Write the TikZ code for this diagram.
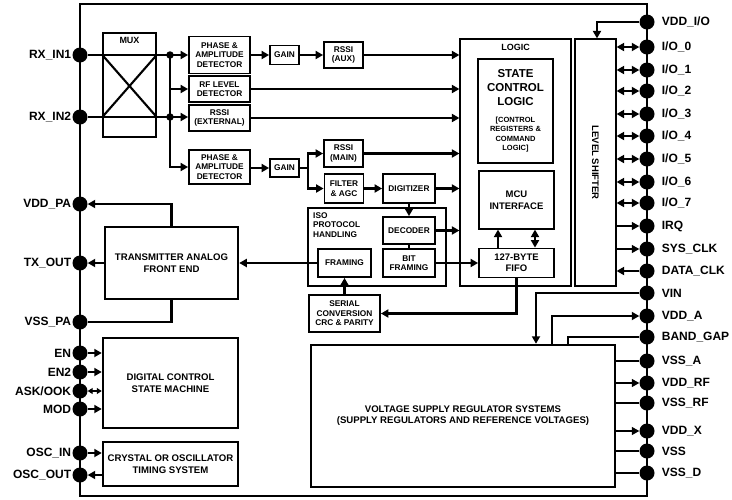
\documentclass[tikz,border=0pt]{standalone}
\usepackage{fontspec}
\setmainfont{Liberation Sans}
\usetikzlibrary{arrows.meta}

\begin{document}
\begin{tikzpicture}[x=1pt,y=-1pt,>={Triangle[length=7.5pt,width=8pt]},
  wire/.style={line width=2.1pt},
  thinwire/.style={line width=1.4pt},
  blk/.style={draw,line width=1.8pt,align=center,inner sep=1pt,font=\bfseries\fontsize{8.3}{9.5}\selectfont},
  bigblk/.style={blk,line width=2.5pt,font=\bfseries\fontsize{9.6}{12.5}\selectfont},
  thinblk/.style={blk,line width=1.2pt},
  pindot/.style={circle,fill,inner sep=0pt,minimum size=15pt},
  jdot/.style={circle,fill,inner sep=0pt,minimum size=7.5pt},
  lpin/.style={anchor=east,inner sep=1pt,font=\bfseries\fontsize{12}{12}\selectfont},
  rpin/.style={anchor=west,inner sep=0pt,xshift=7pt,font=\bfseries\fontsize{12}{12}\selectfont}]

\useasboundingbox (0,0) rectangle (732,499);

% ---- Chip outline ----
\draw[line width=2.8pt] (80,4) rectangle (647,496);

% ---- Left pins ----
\foreach \nm/\yy/\txt in {rxin1/55/RX\_IN1, rxin2/117/RX\_IN2, vddpa/204/VDD\_PA,
    txout/263/TX\_OUT, vsspa/322/VSS\_PA, en/353/EN, entwo/372/EN2,
    askook/391/{ASK/OOK}, mod/409/MOD, oscin/453/OSC\_IN, oscout/475/OSC\_OUT} {
  \node[pindot] (\nm) at (80,\yy) {};
  \node[lpin] at (\nm.west) {\txt};
}

% ---- Right pins ----
\foreach \nm/\yy/\txt in {vddio/22/{VDD\_I/O}, io0/47/{I/O\_0}, io1/70/{I/O\_1},
    io2/91/{I/O\_2}, io3/114/{I/O\_3}, io4/136/{I/O\_4}, io5/159/{I/O\_5},
    io6/182/{I/O\_6}, io7/203/{I/O\_7}, irq/226/IRQ, sysclk/249/SYS\_CLK,
    dataclk/271/DATA\_CLK, vin/293/VIN, vdda/316/VDD\_A, bandgap/337/BAND\_GAP,
    vssa/361/VSS\_A, vddrf/383/VDD\_RF, vssrf/403/VSS\_RF, vddx/431/VDD\_X,
    vss/451/VSS, vssd/473/VSS\_D} {
  \node[pindot] (\nm) at (647,\yy) {};
  \node[rpin] at (\nm.east) {\txt};
}

% ---- Receive path ----
\node[blk,line width=1.3pt,minimum width=53pt,minimum height=104pt] (mux) at (129.5,85) {};
\node[below,yshift=-1pt,font=\bfseries\fontsize{9}{9}\selectfont] at (mux.north) {MUX};

\node[blk,minimum width=61pt,minimum height=37pt] (padone) at (219.5,55) {PHASE \&\\AMPLITUDE\\DETECTOR};
\node[blk,minimum width=61pt,minimum height=26pt] (rflvl) at (219.5,89) {RF LEVEL\\DETECTOR};
\node[blk,minimum width=61pt,minimum height=26pt] (rssiext) at (219.5,118) {RSSI\\(EXTERNAL)};
\node[blk,minimum width=61pt,minimum height=34pt] (padtwo) at (219.5,167) {PHASE \&\\AMPLITUDE\\DETECTOR};

\node[blk,minimum width=29pt,minimum height=19pt] (gainone) at (284.5,55) {GAIN};
\node[blk,minimum width=39pt,minimum height=26pt] (rssiaux) at (343.5,55) {RSSI\\(AUX)};
\node[blk,minimum width=29pt,minimum height=18pt] (gaintwo) at (284.5,168) {GAIN};
\node[blk,minimum width=39pt,minimum height=27pt] (rssimain) at (343.5,153.5) {RSSI\\(MAIN)};
\node[blk,minimum width=39pt,minimum height=29pt] (filter) at (344,188.5) {FILTER\\\& AGC};
\node[blk,minimum width=52pt,minimum height=29pt] (digitizer) at (409,188.5) {DIGITIZER};

% ---- ISO protocol handling ----
\node[thinblk,minimum width=138pt,minimum height=78pt] (iso) at (377,247) {};
\node[anchor=north west,align=left,inner sep=0pt,font=\bfseries\fontsize{8.3}{9.5}\selectfont] at (313,212) {ISO\\PROTOCOL\\HANDLING};
\node[blk,minimum width=52pt,minimum height=27pt] (decoder) at (409,230.5) {DECODER};
\node[blk,minimum width=52pt,minimum height=28pt] (bitfr) at (409,263) {BIT\\FRAMING};
\node[blk,minimum width=53pt,minimum height=28pt] (framing) at (344.5,263) {FRAMING};
\node[blk,minimum width=71pt,minimum height=37pt] (serial) at (344.5,313.5) {SERIAL\\CONVERSION\\CRC \& PARITY};

% ---- Logic ----
\node[thinblk,minimum width=111pt,minimum height=247pt] (logic) at (515.5,162.5) {};
\node[below,yshift=-2pt,font=\bfseries\fontsize{9}{10}\selectfont] at (logic.north) {LOGIC};
\node[thinblk,minimum width=75pt,minimum height=104pt,font=\bfseries\fontsize{11.5}{14}\selectfont] (statectl) at (515.5,111)
  {STATE\\CONTROL\\LOGIC\\[3pt]\fontsize{7.5}{9}\selectfont [CONTROL\\[-4.5pt]\fontsize{7.5}{9}\selectfont REGISTERS \&\\[-4.5pt]\fontsize{7.5}{9}\selectfont COMMAND\\[-4.5pt]\fontsize{7.5}{9}\selectfont LOGIC]};
\node[thinblk,minimum width=75pt,minimum height=58pt,font=\bfseries\fontsize{9.5}{12.5}\selectfont] (mcu) at (516.5,200) {MCU\\INTERFACE};
\node[blk,minimum width=75pt,minimum height=29pt,font=\bfseries\fontsize{9.5}{11}\selectfont] (fifo) at (516.5,263) {127-BYTE\\FIFO};

\node[thinblk,minimum width=41pt,minimum height=247pt] (lvlsh) at (595.5,162.5) {};
\node[rotate=-90,font=\bfseries\fontsize{9.5}{10}\selectfont] at (lvlsh) {LEVEL SHIFTER};

% ---- Left blocks ----
\node[bigblk,minimum width=133pt,minimum height=72pt] (tx) at (171.5,263) {TRANSMITTER ANALOG\\FRONT END};
\node[bigblk,minimum width=135pt,minimum height=90pt] (dcsm) at (170.5,383) {DIGITAL CONTROL\\STATE MACHINE};
\node[bigblk,minimum width=135pt,minimum height=44pt,font=\bfseries\fontsize{9.6}{11.5}\selectfont] (xtal) at (170.5,464) {CRYSTAL OR OSCILLATOR\\TIMING SYSTEM};
\node[bigblk,minimum width=304pt,minimum height=142pt,font=\bfseries\fontsize{9.6}{11}\selectfont] (vreg) at (463,416) {VOLTAGE SUPPLY REGULATOR SYSTEMS\\(SUPPLY REGULATORS AND REFERENCE VOLTAGES)};

% ---- Receive connectors ----
\coordinate (brone) at (170,55);
\coordinate (brtwo) at (170,117);
\draw[wire] (rxin1) -- (brone);
\draw[wire] (rxin2) -- (brtwo);
\draw[wire] (mux.west |- rxin1) -- (mux.east |- rxin2);
\draw[wire] (mux.west |- rxin2) -- (mux.east |- rxin1);
\draw[wire,->] (brone) -- (padone);
\draw[wire,->] (brone |- rflvl) -- (rflvl);
\draw[wire,->] (brtwo) -- (brtwo -| rssiext.west);
\draw[wire,->] (brone) |- (padtwo.west);
\node[jdot] at (brone) {};
\node[jdot] at (brtwo) {};

\draw[wire,->] (padone) -- (gainone);
\draw[wire,->] (gainone) -- (rssiaux);
\draw[wire,->] (rssiaux) -- (rssiaux -| logic.west);
\draw[wire,->] (rflvl) -- (rflvl -| logic.west);
\draw[wire,->] (rssiext) -- (rssiext -| logic.west);
\draw[wire,->] (padtwo.east |- gaintwo) -- (gaintwo);
\coordinate (gsplit) at (308,168);
\draw[wire,->] (gaintwo) -- (gsplit) |- (rssimain.west);
\draw[wire,->] (gsplit) |- (filter.west);
\draw[wire,->] (rssimain) -- (rssimain -| logic.west);
\draw[wire,->] (filter) -- (digitizer);
\draw[wire,->] (digitizer) -- (digitizer -| logic.west);
\draw[wire,->] (digitizer) -- (decoder);
\draw[wire] (decoder) -- (bitfr);
\draw[wire,->] (decoder) -- (decoder -| logic.west);
\draw[wire,->] (bitfr) -- (fifo);
\draw[wire,->] ([xshift=-18.5pt]fifo.north) -- ([xshift=-18.5pt]mcu.south);
\draw[wire,<->] ([xshift=18.5pt]fifo.north) -- ([xshift=18.5pt]mcu.south);
\draw[wire,->] (fifo.south) |- (serial.east);
\draw[wire,->] (serial) -- (framing);
\draw[wire,->] (framing) -- (tx);

% ---- Transmitter and control ----
\draw[wire,->] (tx) -- (txout);
\draw[wire,->] (tx.north) |- (vddpa);
\draw[wire] (tx.south) |- (vsspa);
\draw[wire,->] (en) -- (en -| dcsm.west);
\draw[wire,->] (entwo) -- (entwo -| dcsm.west);
\draw[thinwire,{Triangle[length=5pt,width=6pt]}-{Triangle[length=5pt,width=6pt]}] (askook) -- (askook -| dcsm.west);
\draw[wire,->] (mod) -- (mod -| dcsm.west);
\draw[wire,->] (oscin) -- (oscin -| xtal.west);
\draw[wire,->] (oscout -| xtal.west) -- (oscout);

% ---- Level shifter pins ----
\draw[wire,->] (vddio) -| ([xshift=1.5pt]lvlsh.north);
\foreach \i in {0,...,7} {
  \draw[wire,<->] (io\i -| lvlsh.east) -- (io\i);
}
\draw[thinwire,->] (irq -| lvlsh.east) -- (irq);
\draw[thinwire,->] (sysclk -| lvlsh.east) -- (sysclk);
\draw[wire,->] (dataclk) -- (dataclk -| lvlsh.east);

% ---- Supply pins ----
\draw[wire,->] (vin) -| ([xshift=73pt]vreg.north);
\draw[wire,->] ([xshift=89pt]vreg.north) |- (vdda);
\draw[wire] ([xshift=105pt]vreg.north) |- (bandgap);
\draw[thinwire] (vssa -| vreg.east) -- (vssa);
\draw[thinwire,->] (vddrf -| vreg.east) -- (vddrf);
\draw[thinwire] (vssrf -| vreg.east) -- (vssrf);
\draw[thinwire,->] (vddx -| vreg.east) -- (vddx);
\draw[thinwire] (vss -| vreg.east) -- (vss);
\draw[thinwire] (vssd -| vreg.east) -- (vssd);

\end{tikzpicture}
\end{document}
